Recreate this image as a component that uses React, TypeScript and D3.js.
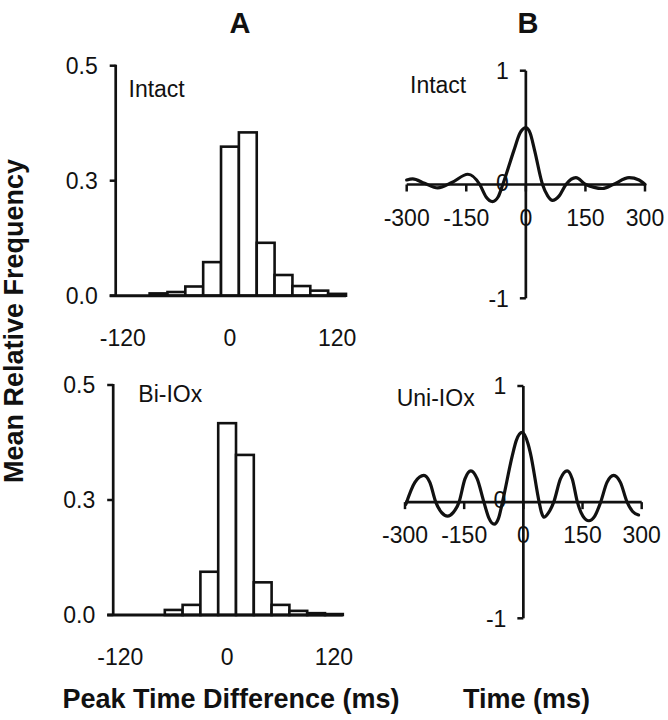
import React from 'react';
import * as d3 from 'd3';

// ---------- data ----------
const histBinCenters = [-80, -60, -40, -20, 0, 20, 40, 60, 80, 100, 120];
const histBinWidth = 20;
const intactFreq = [0.005, 0.008, 0.02, 0.073, 0.324, 0.355, 0.115, 0.045, 0.021, 0.011, 0.004];
const biIOxFreq = [0, 0.011, 0.022, 0.094, 0.417, 0.348, 0.071, 0.022, 0.009, 0.004, 0.002];
const histYTicks = [0, 0.25, 0.5];
const histYTickLabels = ['0.0', '0.3', '0.5'];
const histXTicks = [-120, 0, 120];

const intactCorrTime = [-300, -285, -255, -222, -185, -146, -116, -100, -84, -70, -58, -30, -15, 0, 11, 22, 42, 55, 67, 84, 101, 126, 151, 193, 220, 260, 285, 300];
const intactCorrValue = [0.04, 0.05, 0.01, -0.03, 0.02, 0.09, 0.0, -0.11, -0.15, -0.11, 0.0, 0.3, 0.45, 0.5, 0.45, 0.3, 0.0, -0.1, -0.14, -0.1, 0.0, 0.06, 0.0, -0.035, 0.0, 0.06, 0.04, 0.0];
const uniCorrTime = [-298, -275, -252, -237, -222, -207, -192, -178, -163, -148, -133, -117, -100, -87, -74, -63, -53, -28, -18, -3, 12, 18, 40, 46, 52, 64, 77, 94, 111, 124, 137, 151, 166, 181, 196, 212, 229, 246, 263, 277, 292];
const uniCorrValue = [-0.02, 0.17, 0.23, 0.17, 0.0, -0.09, -0.12, -0.09, 0.0, 0.2, 0.27, 0.2, 0.0, -0.14, -0.19, -0.14, 0.0, 0.4, 0.53, 0.6, 0.5, 0.42, 0.0, -0.09, -0.13, -0.09, 0.0, 0.2, 0.27, 0.2, 0.0, -0.12, -0.16, -0.12, 0.0, 0.17, 0.23, 0.17, 0.0, -0.08, -0.11];
const corrXTicks = [-300, -150, 0, 150, 300];
const corrYTicks = [-1, 0, 1];

const FONT = "Arial, 'Liberation Sans', Helvetica, sans-serif";
const INK = '#111';

type HistProps = {
  left: number; right: number; bottom: number; top: number;
  values: number[]; label: string; labelX: number; labelY: number;
};

function Histogram({ left, right, bottom, top, values, label, labelX, labelY }: HistProps) {
  const x = d3.scaleLinear().domain([-128, 130]).range([left, right]);
  const y = d3.scaleLinear().domain([0, 0.5]).range([bottom, top]);
  return (
    <g>
      {histBinCenters.map((c, i) => (
        values[i] > 0 ? (
          <rect key={i}
            x={x(c - histBinWidth / 2)}
            y={y(values[i])}
            width={x(c + histBinWidth / 2) - x(c - histBinWidth / 2)}
            height={y(0) - y(values[i])}
            fill="#fff" stroke={INK} strokeWidth={2.6} />
        ) : null
      ))}
      <line x1={x(-128) - 6} x2={x(130)} y1={y(0)} y2={y(0)} stroke={INK} strokeWidth={3} />
      <line x1={x(-128)} x2={x(-128)} y1={y(0)} y2={y(0.5) - 1} stroke={INK} strokeWidth={2.7} />
      {histYTicks.map((t, i) => (
        <g key={i}>
          <line x1={x(-128) - 6} x2={x(-128)} y1={y(t)} y2={y(t)} stroke={INK} strokeWidth={2.5} />
          <text x={x(-128) - 18} y={y(t) + 8.3} textAnchor="end" fontSize={23} fontFamily={FONT} fill={INK}>{histYTickLabels[i]}</text>
        </g>
      ))}
      {histXTicks.map((t, i) => (
        <text key={i} x={x(t)} y={y(0) + 50} textAnchor="middle" fontSize={23} fontFamily={FONT} fill={INK}>{t}</text>
      ))}
      <text x={labelX} y={labelY} fontSize={23} fontFamily={FONT} fill={INK}>{label}</text>
    </g>
  );
}

type CorrProps = {
  left: number; right: number; bottom: number; top: number;
  times: number[]; values: number[]; label: string; labelX: number; labelY: number;
};

function Correlogram({ left, right, bottom, top, times, values, label, labelX, labelY }: CorrProps) {
  const x = d3.scaleLinear().domain([-300, 300]).range([left, right]);
  const y = d3.scaleLinear().domain([-1, 1]).range([bottom, top]);
  const pts: [number, number][] = times.map((t, i) => [t, values[i]]);
  const line = d3.line<[number, number]>()
    .x(d => x(d[0]))
    .y(d => y(d[1]))
    .curve(d3.curveMonotoneX);
  return (
    <g>
      <line x1={x(-300)} x2={x(300)} y1={y(0)} y2={y(0)} stroke={INK} strokeWidth={2.7} />
      {corrXTicks.map((t, i) => (
        <g key={i}>
          <line x1={x(t)} x2={x(t)} y1={y(0)} y2={y(0) + 7} stroke={INK} strokeWidth={2.5} />
          <text x={x(t)} y={y(0) + 41} textAnchor="middle" fontSize={23} fontFamily={FONT} fill={INK}>{t}</text>
        </g>
      ))}
      <line x1={x(0)} x2={x(0)} y1={y(-1)} y2={y(1)} stroke={INK} strokeWidth={2.7} />
      {corrYTicks.map((t, i) => (
        <g key={i}>
          {t !== 0 && <line x1={x(0) - 6} x2={x(0)} y1={y(t)} y2={y(t)} stroke={INK} strokeWidth={2.5} />}
          <text x={x(0) - 17} y={y(t) + (t === 0 ? 6 : 8.3)} textAnchor="end" fontSize={23} fontFamily={FONT} fill={INK}>{t}</text>
        </g>
      ))}
      <path d={line(pts) || ''} fill="none" stroke={INK} strokeWidth={3.2} strokeLinejoin="round" strokeLinecap="round" />
      <text x={labelX} y={labelY} fontSize={23} fontFamily={FONT} fill={INK}>{label}</text>
    </g>
  );
}

export default function App() {
  return (
    <svg width={668} height={720} style={{ position: 'absolute', left: 0, top: 0, background: '#fff' }}>
      <rect x={0} y={0} width={668} height={720} fill="#fff" />
      <text x={240} y={33} textAnchor="middle" fontSize={29} fontWeight="bold" fontFamily={FONT} fill={INK}>A</text>
      <text x={528} y={33} textAnchor="middle" fontSize={29} fontWeight="bold" fontFamily={FONT} fill={INK}>B</text>

      <Histogram left={115.7} right={346} bottom={295.7} top={65.7} values={intactFreq} label="Intact" labelX={128.5} labelY={96.7} />
      <Histogram left={113.2} right={342.8} bottom={615} top={385} values={biIOxFreq} label="Bi-IOx" labelX={138.3} labelY={401.7} />

      <Correlogram left={406.7} right={645} bottom={298.3} top={70.7} times={intactCorrTime} values={intactCorrValue} label="Intact" labelX={410} labelY={93.3} />
      <Correlogram left={405} right={641.7} bottom={618.3} top={386} times={uniCorrTime} values={uniCorrValue} label="Uni-IOx" labelX={396.7} labelY={406} />

      <text transform="translate(23,483) rotate(-90)" fontSize={27} fontWeight="bold" fontFamily={FONT} fill={INK}>Mean Relative Frequency</text>
      <text x={231} y={707.5} textAnchor="middle" fontSize={27} fontWeight="bold" fontFamily={FONT} fill={INK}>Peak Time Difference (ms)</text>
      <text x={526.5} y={707.5} textAnchor="middle" fontSize={27} fontWeight="bold" fontFamily={FONT} fill={INK}>Time (ms)</text>
    </svg>
  );
}
